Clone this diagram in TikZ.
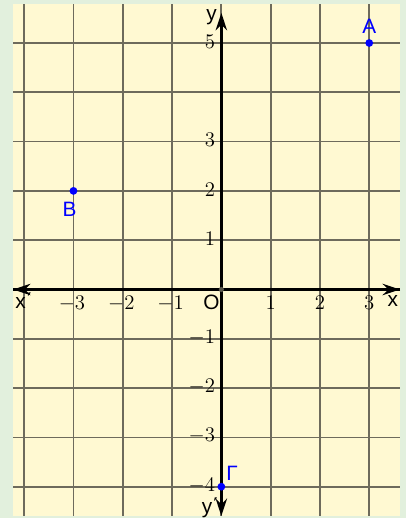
\documentclass[tikz,border=0pt]{standalone}
\usepackage{fontspec}
\newfontfamily\labelfont{Liberation Sans}
\usetikzlibrary{arrows.meta}

\definecolor{frame}{HTML}{E2F0DD}
\definecolor{paper}{HTML}{FFF9D2}
\definecolor{gridline}{HTML}{6E6B5C}
\definecolor{pointblue}{HTML}{0000FF}

\def\xmin{-4.225}
\def\xmax{3.625}
\def\ymin{-4.594}
\def\ymax{5.791}

\begin{document}
\begin{tikzpicture}[x=1cm,y=1cm]
        \tikzstyle{grid line}=[draw=gridline, line width=1pt]
        \tikzstyle{axis}=[draw=black, line width=1.7pt, -{Stealth[length=10pt,width=6.5pt]}]
        \tikzstyle{tick}=[font=\fontsize{13}{15}\selectfont, inner sep=0pt]
        \tikzstyle{annot}=[font=\labelfont\fontsize{12}{14}\selectfont, inner sep=0pt]
        \tikzstyle{point}=[circle, fill=pointblue, minimum size=4.5pt, inner sep=0pt]
        \tikzstyle{point label}=[annot, text=pointblue]

        % Fix the page and paint the background
        \useasboundingbox[fill=frame] (-4.49,-4.635) rectangle (3.746,5.872);
        \fill[paper] (\xmin,\ymin) rectangle (\xmax,\ymax);

        % Draw the grid
        \foreach \x in {-4,...,3}
            \draw[grid line] (\x,\ymin) -- (\x,\ymax);
        \foreach \y in {-4,...,5}
            \draw[grid line] (\xmin,\y) -- (\xmax,\y);

        % End points of the axes
        \coordinate (X-left) at (\xmin,0);
        \coordinate (X-right) at (\xmax,0);
        \coordinate (Y-bottom) at (0,\ymin);
        \coordinate (Y-top) at (0,5.61);

        % Draw the axes
        \path[axis] (X-right) -- (X-left);
        \path[axis] (X-left) -- (X-right);
        \path[axis] (0,0) -- (Y-top);
        \path[axis] (0,0) -- (Y-bottom);
        \node[circle, fill=gridline!80!black, minimum size=3pt, inner sep=0pt] (O) at (0,0) {};

        % Numbers on the axes
        \foreach \x in {-3,-2,-1}
            \node[tick] (X-\x) at (\x-0.03,-0.28) {$\x$};
        \foreach \x in {1,2,3}
            \node[tick] (X-\x) at (\x,-0.28) {$\x$};
        \foreach \y in {5,3,2,1,-1,-2,-3,-4}
            \node[tick, anchor=east] (Y-\y) at (-0.12,\y+0.03) {$\y$};

        % Names of the axes and of the origin
        \node[annot] (xp) at (-4.0,-0.23) {x΄};
        \node[annot] (xx) at (3.48,-0.24) {x};
        \node[annot] (yy) at (-0.2,5.53) {y};
        \node[annot] (yp) at (-0.22,-4.42) {y΄};
        \node[annot] (o) at (-0.2,-0.27) {O};

        % The points
        \node[point] (A) at (3,5) {};
        \node[point] (B) at (-3,2) {};
        \node[point] (G) at (0,-4) {};
        \node[point label] at (3,5.33) {A};
        \node[point label] at (-3.08,1.63) {B};
        \node[point label] at (0.22,-3.73) {Γ};
\end{tikzpicture}
\end{document}
